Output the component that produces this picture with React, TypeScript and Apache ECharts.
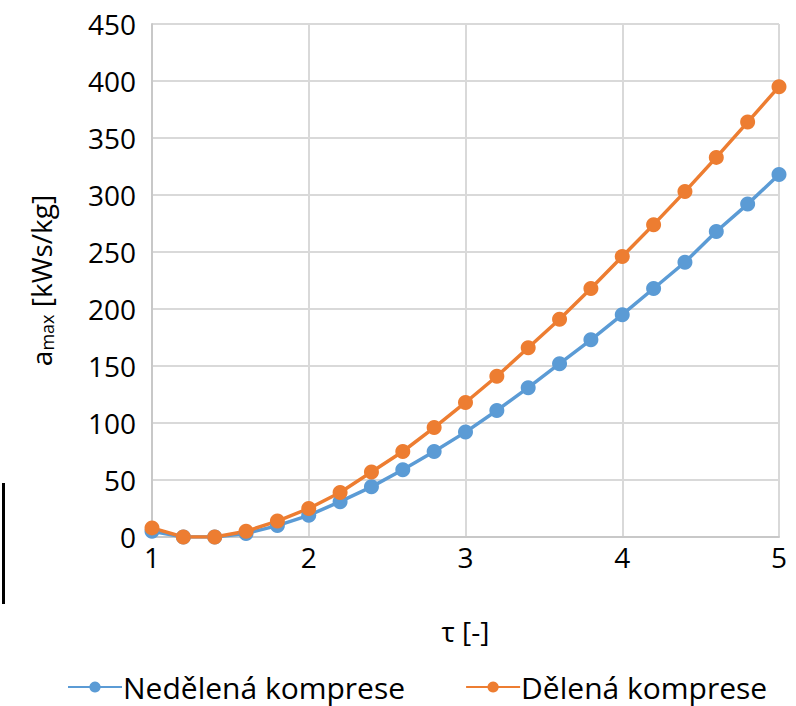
import React, { useEffect, useRef } from "react";
import * as echarts from "echarts";

const tau = [1, 1.2, 1.4, 1.6, 1.8, 2, 2.2, 2.4, 2.6, 2.8, 3, 3.2, 3.4, 3.6, 3.8, 4, 4.2, 4.4, 4.6, 4.8, 5];
const nedelena = [5, 0, 0, 3, 10, 19, 31, 44, 59, 75, 92, 111, 131, 152, 173, 195, 218, 241, 268, 292, 318];
const delena = [8, 0, 0, 5, 14, 25, 39, 57, 75, 96, 118, 141, 166, 191, 218, 246, 274, 303, 333, 364, 395];
const seriesNames = ["Nedělená komprese", "Dělená komprese"];
const colors = ["#5b9bd5", "#ed7d31"];

export default function App() {
  const ref = useRef<HTMLDivElement>(null);
  useEffect(() => {
    if (!ref.current) return;
    const chart = echarts.init(ref.current, null, { renderer: "svg" });
    const font = "Open Sans, Noto Sans, sans-serif";
    const mk = (vals: number[]) => tau.map((t, i) => [t, vals[i]]);
    chart.setOption({
      animation: false,
      backgroundColor: "#fff",
      textStyle: { fontFamily: font },
      grid: { left: 152, right: 17, top: 24, bottom: 169 },
      xAxis: {
        type: "value",
        min: 1,
        max: 5,
        interval: 1,
        name: "τ [-]",
        nameLocation: "middle",
        nameGap: 80,
        nameTextStyle: { fontSize: 28, color: "#000", fontFamily: font },
        axisLine: { show: true, lineStyle: { color: "#c8c8c8", width: 2 } },
        axisTick: { show: false },
        axisLabel: { fontSize: 28, color: "#000", margin: 6, fontFamily: font },
        splitLine: { show: true, lineStyle: { color: "#d9d9d9", width: 2 } },
      },
      yAxis: {
        type: "value",
        min: 0,
        max: 450,
        interval: 50,
        name: "{a|a}{s|max}{a| [kWs/kg]}",
        nameLocation: "middle",
        nameGap: 96,
        nameRotate: 90,
        nameTextStyle: {
          color: "#000",
          rich: {
            a: { fontSize: 28, color: "#000", fontFamily: font },
            s: { fontSize: 18, color: "#000", fontFamily: font, verticalAlign: "bottom", padding: [12, 0, 0, 0] },
          },
        },
        axisLine: { show: true, lineStyle: { color: "#c8c8c8", width: 2 } },
        axisTick: { show: false },
        axisLabel: { fontSize: 28, color: "#000", margin: 16, fontFamily: font },
        splitLine: { show: true, lineStyle: { color: "#d9d9d9", width: 2 } },
      },
      legend: {
        top: 667,
        left: 62,
        itemWidth: 54,
        itemHeight: 14,
        itemGap: 60,
        textStyle: { fontSize: 30, lineHeight: 30, color: "#000", fontFamily: font, padding: [0, 0, 0, -4] },
        data: seriesNames,
      },
      series: [
        {
          name: seriesNames[0],
          type: "line",
          data: mk(nedelena),
          symbol: "circle",
          symbolSize: 15,
          lineStyle: { width: 3.5, color: colors[0] },
          itemStyle: { color: colors[0] },
        },
        {
          name: seriesNames[1],
          type: "line",
          data: mk(delena),
          symbol: "circle",
          symbolSize: 15,
          lineStyle: { width: 3.5, color: colors[1] },
          itemStyle: { color: colors[1] },
        },
      ],
      graphic: [
        { type: "rect", shape: { x: 2, y: 483, width: 3, height: 121 }, style: { fill: "#000" } },
      ],
    });
    return () => chart.dispose();
  }, []);
  return <div ref={ref} style={{ position: "absolute", left: 0, top: 0, width: 796, height: 706 }} />;
}
